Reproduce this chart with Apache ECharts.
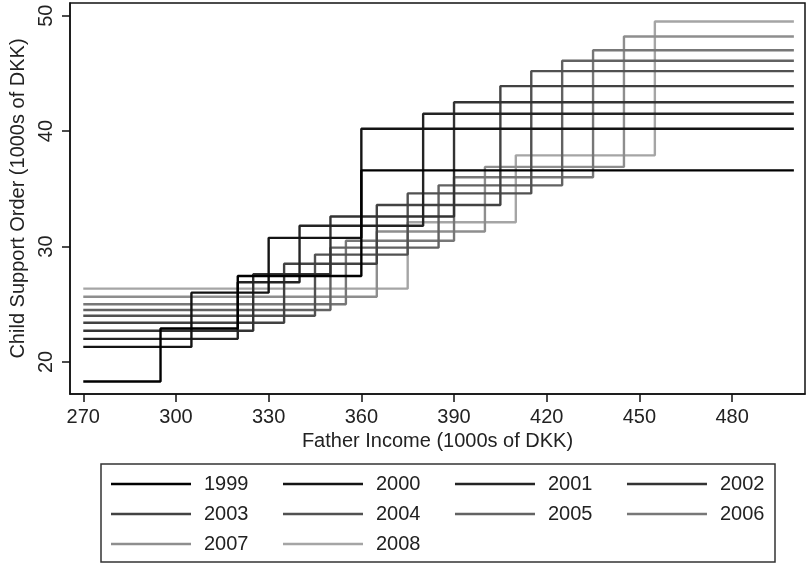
<!DOCTYPE html>
<html>
<head>
<meta charset="utf-8">
<script src="https://cdn.jsdelivr.net/npm/echarts@6/dist/echarts.min.js"></script>
<style>
  html, body { margin: 0; padding: 0; background: #fff; }
  #chart { width: 807px; height: 571px; }
</style>
</head>
<body>
<div id="chart"></div>
<script>
// years in the legend, darkest first
const years = ['1999', '2000', '2001', '2002', '2003', '2004', '2005', '2006', '2007', '2008'];
// income thresholds (1000s DKK) where each year's order steps up
const steps = [
  [295, 320, 360],
  [305, 330, 360],
  [320, 340, 380],
  [325, 350, 390],
  [335, 365, 405],
  [345, 375, 415],
  [350, 385, 425],
  [355, 390, 435],
  [365, 400, 445],
  [375, 410, 455]
];
// order levels: below first threshold, then after each threshold
const levels = [
  [18.3, 22.9, 27.45, 36.6],
  [21.3, 26.0, 30.75, 40.2],
  [22.0, 26.9, 31.8, 41.5],
  [22.7, 27.6, 32.6, 42.5],
  [23.4, 28.5, 33.6, 43.9],
  [24.0, 29.3, 34.6, 45.2],
  [24.5, 29.9, 35.3, 46.1],
  [25.0, 30.5, 36.0, 47.0],
  [25.65, 31.3, 36.9, 48.2],
  [26.35, 32.1, 37.9, 49.5]
];
const incomeStart = 270;
const incomeEnd = 500;
const xTicks = [270, 300, 330, 360, 390, 420, 450, 480];
const yTicks = [20, 30, 40, 50];

const greys = ['#000000', '#141414', '#242424', '#333333', '#424242',
               '#515151', '#626262', '#777777', '#8e8e8e', '#a5a5a5'];

const font = 'Liberation Sans, Arial, sans-serif';

const series = years.map(function (yr, i) {
  const pts = [[incomeStart, levels[i][0]]];
  steps[i].forEach(function (t, k) {
    pts.push([t, levels[i][k + 1]]);
  });
  pts.push([incomeEnd, levels[i][3]]);
  return {
    name: yr,
    type: 'line',
    step: 'end',
    symbol: 'none',
    z: 20 - i,
    lineStyle: { color: greys[i], width: 2.4 },
    itemStyle: { color: greys[i] },
    data: pts
  };
});

// legend laid out as 3 rows of 4
const legendRows = [years.slice(0, 4), years.slice(4, 8), years.slice(8)];
const legends = legendRows.map(function (row, r) {
  return {
    data: row.map(function (n) { return { name: n, icon: 'rect' }; }),
    left: 111,
    top: 474 + r * 30,
    padding: 0,
    orient: 'horizontal',
    itemWidth: 80,
    itemHeight: 2.5,
    itemGap: 34.5,
    selectedMode: false,
    textStyle: { fontFamily: font, fontSize: 20, color: '#222', padding: [0, 0, 0, 8] }
  };
});

const chart = echarts.init(document.getElementById('chart'));

chart.setOption({
  backgroundColor: '#fff',
  animation: false,
  grid: {
    left: 70, right: 2, top: 3, bottom: 177,
    show: true, borderColor: '#111', borderWidth: 1.5
  },
  xAxis: {
    type: 'value',
    min: 265.7,
    max: 503.6,
    name: 'Father Income (1000s of DKK)',
    nameLocation: 'middle',
    nameGap: 35,
    nameTextStyle: { fontFamily: font, fontSize: 20, color: '#222' },
    axisLine: { show: true, onZero: false, lineStyle: { color: '#111', width: 1.5 } },
    axisTick: { show: true, length: 8, customValues: xTicks, lineStyle: { color: '#111', width: 1.5 } },
    axisLabel: { customValues: xTicks, margin: 13, fontFamily: font, fontSize: 20, color: '#222' },
    splitLine: { show: false }
  },
  yAxis: {
    type: 'value',
    min: 17.22,
    max: 51.1,
    name: 'Child Support Order (1000s of DKK)',
    nameLocation: 'middle',
    nameGap: 40,
    nameTextStyle: { fontFamily: font, fontSize: 20, color: '#222' },
    axisLine: { show: true, onZero: false, lineStyle: { color: '#111', width: 1.5 } },
    axisTick: { show: true, length: 8, customValues: yTicks, lineStyle: { color: '#111', width: 1.5 } },
    axisLabel: { customValues: yTicks, rotate: 90, margin: 14, fontFamily: font, fontSize: 20, color: '#222' },
    splitLine: { show: false }
  },
  legend: legends,
  graphic: [{
    type: 'rect',
    shape: { x: 101, y: 464, width: 674, height: 98 },
    style: { fill: 'none', stroke: '#333', lineWidth: 1.5 },
    z: 1
  }],
  series: series
});
</script>
</body>
</html>
